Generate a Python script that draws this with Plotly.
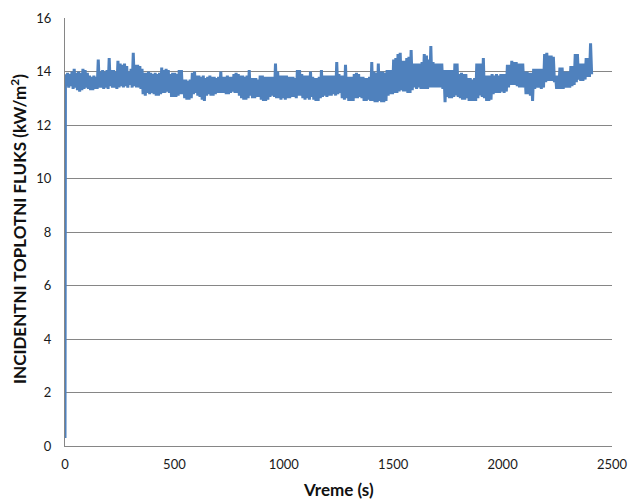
import plotly.graph_objects as go

# first sample (s, kW/m^2) before the flux jumps up
start_time = [0]
start_flux = [0.3]

# times of the upper / lower excursions in each 10 s window (s)
upper_time = list(range(2, 2410, 10))
lower_time = list(range(7, 2410, 10))

# incident heat flux, local highs per 10 s window (kW/m^2), 100 s per row
flux_upper = [
    13.9, 13.95, 13.9, 14.0, 14.1, 13.95, 14.0, 13.95, 14.1, 14.05,
    13.95, 13.85, 13.8, 13.85, 13.8, 14.45, 14.0, 14.05, 14.0, 14.05,
    14.5, 14.05, 14.05, 14.0, 14.4, 14.3, 14.25, 14.3, 14.2, 14.0,
    14.1, 14.7, 14.25, 14.25, 14.2, 14.1, 13.95, 13.95, 14.0, 13.95,
    13.9, 13.95, 13.9, 13.95, 14.15, 14.05, 14.1, 14.05, 13.9, 13.95,
    13.95, 13.9, 14.05, 14.05, 13.7, 13.7, 13.65, 13.7, 13.95, 14.0,
    13.85, 13.85, 13.8, 13.85, 13.75, 13.8, 13.85, 13.8, 13.8, 13.75,
    13.8, 14.0, 13.8, 13.8, 13.85, 13.8, 13.8, 13.9, 13.95, 13.9,
    13.85, 13.85, 13.8, 13.85, 14.05, 13.75, 13.75, 13.75, 13.7, 13.85,
    13.85, 13.8, 13.8, 13.8, 13.8, 13.8, 14.3, 14.0, 13.85, 13.85,
    13.85, 13.85, 13.8, 13.8, 13.8, 13.75, 14.05, 14.05, 13.9, 13.85,
    13.85, 13.85, 14.0, 13.8, 13.75, 13.75, 13.8, 14.05, 13.85, 13.85,
    13.85, 13.85, 13.85, 13.85, 14.35, 13.9, 13.85, 13.85, 14.25, 13.8,
    13.8, 13.8, 13.9, 13.95, 13.9, 13.8, 13.8, 13.75, 13.75, 13.8,
    14.35, 14.0, 13.95, 14.3, 14.0, 14.0, 13.95, 14.05, 14.05, 14.05,
    14.45, 14.5, 14.65, 14.7, 14.4, 14.4, 14.5, 14.55, 14.8, 14.3,
    14.3, 14.3, 14.3, 14.35, 14.65, 14.6, 14.45, 14.95, 14.35, 14.3,
    14.3, 14.3, 14.3, 14.05, 14.05, 14.05, 14.05, 14.05, 14.3, 14.3,
    13.9, 13.95, 13.9, 13.9, 13.75, 13.75, 13.7, 13.75, 14.3, 14.3,
    14.3, 14.5, 13.85, 13.85, 13.85, 13.9, 13.85, 13.9, 13.85, 13.9,
    13.9, 13.9, 14.25, 14.25, 14.4, 14.35, 14.35, 14.3, 14.3, 14.3,
    14.0, 14.0, 13.95, 13.95, 14.1, 14.1, 14.1, 14.1, 14.1, 14.65,
    14.7, 14.6, 14.6, 14.55, 13.85, 13.85, 14.15, 14.15, 14.0, 14.0,
    14.0, 14.2, 14.2, 14.65, 14.65, 14.3, 14.3, 14.3, 14.5, 14.5,
    15.05,
]

# incident heat flux, local lows per 10 s window (kW/m^2), 100 s per row
flux_lower = [
    13.45, 13.4, 13.45, 13.35, 13.4, 13.3, 13.25, 13.3, 13.35, 13.4,
    13.35, 13.3, 13.3, 13.35, 13.35, 13.4, 13.4, 13.35, 13.4, 13.35,
    13.45, 13.4, 13.4, 13.35, 13.4, 13.45, 13.4, 13.45, 13.4, 13.5,
    13.4, 13.45, 13.4, 13.4, 13.35, 13.15, 13.1, 13.2, 13.15, 13.2,
    13.15, 13.1, 13.1, 13.15, 13.2, 13.2, 13.25, 13.2, 13.05, 13.05,
    13.05, 13.1, 13.15, 13.15, 13.0, 12.95, 12.95, 13.0, 13.15, 13.2,
    13.1, 13.05, 12.95, 12.9, 13.1, 13.15, 13.1, 13.1, 13.15, 13.2,
    13.2, 13.2, 13.2, 13.15, 13.15, 13.2, 13.25, 13.2, 13.2, 13.1,
    13.0, 12.95, 12.95, 13.0, 13.1, 13.0, 13.0, 13.05, 13.05, 12.95,
    12.9, 12.9, 12.95, 13.05, 13.1, 13.05, 13.0, 13.0, 12.95, 13.0,
    12.95, 13.0, 13.0, 13.05, 13.05, 13.0, 13.1, 13.1, 13.0, 12.95,
    13.0, 12.95, 13.05, 12.95, 12.9, 12.9, 13.0, 13.05, 13.1, 13.05,
    13.1, 13.1, 13.15, 13.1, 13.15, 13.2, 13.0, 12.95, 13.0, 12.9,
    12.9, 12.9, 13.0, 13.0, 13.05, 13.0, 12.9, 12.9, 12.95, 12.9,
    12.9, 12.85, 12.85, 12.9, 12.85, 12.85, 12.9, 13.1, 13.15, 13.15,
    13.2, 13.2, 13.25, 13.3, 13.25, 13.25, 13.2, 13.2, 13.3, 13.4,
    13.35, 13.4, 13.35, 13.35, 13.35, 13.35, 13.4, 13.4, 13.4, 13.4,
    13.4, 13.4, 13.35, 12.85, 13.05, 13.0, 13.0, 13.05, 13.1, 13.05,
    13.0, 12.95, 12.95, 13.0, 12.9, 12.9, 12.9, 12.9, 13.0, 13.1,
    13.05, 13.0, 12.9, 12.9, 12.95, 13.15, 13.2, 13.2, 13.2, 13.25,
    13.2, 13.25, 13.4, 13.5, 13.5, 13.5, 13.45, 13.4, 13.4, 13.4,
    13.15, 13.15, 13.1, 12.9, 13.35, 13.4, 13.4, 13.35, 13.4, 13.6,
    13.65, 13.65, 13.65, 13.6, 13.35, 13.35, 13.35, 13.35, 13.4, 13.4,
    13.4, 13.45, 13.5, 13.6, 13.7, 13.65, 13.65, 13.7, 13.8, 13.8,
    13.9,
]

x_ticks = [0, 500, 1000, 1500, 2000, 2500]
y_ticks = [0, 2, 4, 6, 8, 10, 12, 14, 16]

# merge the read samples into one time-ordered series
points = sorted(
    list(zip(start_time, start_flux))
    + list(zip(upper_time, flux_upper))
    + list(zip(lower_time, flux_lower))
)
time_s = [p[0] for p in points]
flux = [p[1] for p in points]

FONT = "Lato, 'Open Sans', sans-serif"

fig = go.Figure(
    go.Scatter(
        x=time_s,
        y=flux,
        mode="lines",
        line=dict(color="#4F81BD", width=3),
        showlegend=False,
        hoverinfo="skip",
    )
)

fig.update_layout(
    width=630,
    height=501,
    margin=dict(l=65, r=18, t=18, b=55, autoexpand=False),
    paper_bgcolor="white",
    plot_bgcolor="white",
    font=dict(family=FONT, size=13, color="#1a1a1a"),
    annotations=[
        dict(
            text="<b>INCIDENTNI TOPLOTNI FLUKS (kW/m<sup>2</sup>)</b>",
            xref="paper", yref="paper",
            x=(18 - 65) / 547, y=(446 - 229) / 428,
            xanchor="center", yanchor="middle",
            textangle=-90, showarrow=False,
            font=dict(family=FONT, size=17, color="#111111"),
        ),
        dict(
            text="<b>Vreme (s)</b>",
            xref="paper", yref="paper",
            x=0.5, y=(446 - 490) / 428,
            xanchor="center", yanchor="middle",
            showarrow=False,
            font=dict(family=FONT, size=17, color="#111111"),
        ),
    ],
)

fig.update_xaxes(
    range=[0, 2500],
    tickvals=x_ticks,
    showgrid=False,
    zeroline=False,
    showline=True,
    linecolor="#868686",
    linewidth=1,
    ticks="",
    ticklabelstandoff=6,
    automargin=False,
)

fig.update_yaxes(
    range=[0, 16],
    tickvals=y_ticks,
    showgrid=True,
    gridcolor="#868686",
    gridwidth=1,
    zeroline=False,
    showline=True,
    linecolor="#868686",
    linewidth=1,
    ticks="",
    ticklabelstandoff=10,
    automargin=False,
)

fig.write_html(
    "out.html",
    config={"displayModeBar": False},
    post_script="document.body.style.margin='0px';document.body.style.padding='0px';",
)
